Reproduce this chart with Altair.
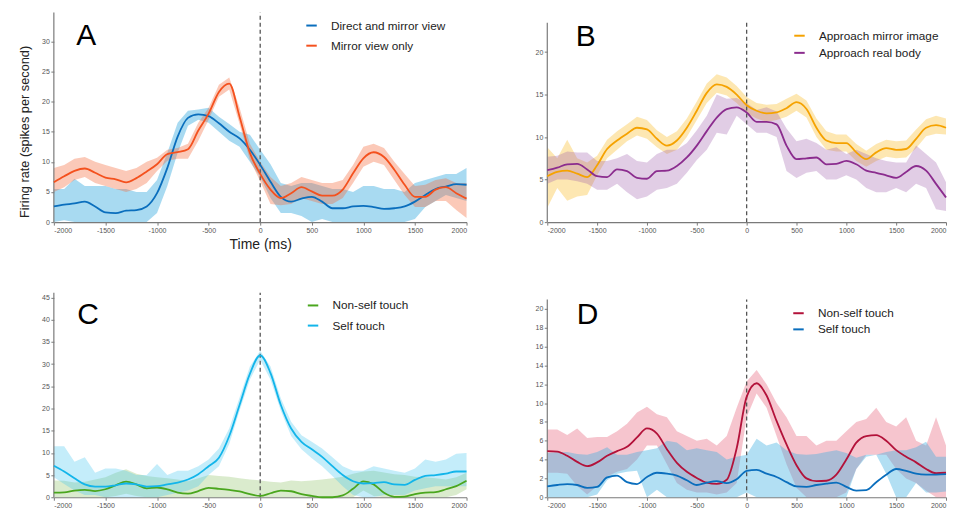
import altair as alt
import pandas as pd

t = list(range(-2000, 2001, 100))

# ---------------- Panel A ----------------
a_names = ["Direct and mirror view", "Mirror view only"]
a_direct_mean = [2.6, 2.9, 3.1, 3.4, 2.6, 1.6, 1.5, 1.9, 2.0, 2.6, 4.8, 9.0, 14.2, 17.3, 17.9, 17.6, 16.4, 15.0, 13.9, 12.0, 9.5,
                 6.7, 4.2, 3.4, 3.9, 4.2, 3.4, 2.3, 2.3, 2.6, 2.7, 2.5, 2.2, 2.3, 2.6, 3.4, 4.5, 5.5, 5.9, 6.3, 6.2]
a_direct_lo = [0, 0.3, 0, 0, 0, 0, 0, 0, 0, 0, 1.5, 6, 11.5, 16, 17, 16.5, 15, 13.5, 12.5, 10, 7.5,
               4, 1.5, 1.5, 1, 0, 0.5, 0, 0, 0, 0, 0, 0, 0, 0, 0.5, 2.5, 3.5, 4.5, 4, 3.5]
a_direct_hi = [5.5, 5.5, 7.2, 6, 6, 6, 5.5, 5.5, 5, 5, 7, 11.5, 16.5, 18.5, 18.7, 19, 17.5, 16.3, 15, 14.5, 12,
               9.6, 6.5, 6, 6.5, 6.5, 6, 5.5, 5.5, 5, 6, 6, 5.5, 5.5, 5, 6.5, 7, 7.5, 8, 8, 9]
a_mirror_mean = [6.6, 7.6, 8.5, 8.9, 8.2, 7.4, 7.1, 6.6, 7.3, 8.4, 9.6, 11.3, 11.6, 12.1, 15.2, 18.0, 21.6, 23.0, 17.5, 11.5, 8.0,
                 5.4, 4.0, 4.8, 5.8, 5.1, 4.4, 4.4, 5.4, 8.1, 10.6, 11.6, 10.8, 8.7, 6.2, 4.2, 4.2, 5.4, 5.8, 4.8, 3.9]
a_mirror_lo = [5, 5.8, 7, 7.5, 6.5, 6, 5.5, 5, 5.5, 6.5, 8.5, 10.2, 10.5, 10.5, 13.5, 17, 20.8, 22, 16.3, 10.3, 6.8,
               3, 2.8, 3, 4, 3.5, 3, 3, 4, 6.5, 9.2, 10, 9.5, 7, 4.5, 2.5, 2.5, 3.5, 3.5, 2, 0.7]
a_mirror_hi = [9, 9.5, 10.5, 10.8, 10, 9.5, 9, 8.5, 9, 10, 10.7, 12, 12.3, 13, 16.5, 19, 22.8, 24, 19, 13, 10,
               7.5, 6, 6.5, 7.5, 7, 6.5, 6.5, 7, 9.5, 12.5, 13, 12.3, 10, 8, 6, 6.2, 7, 7.3, 6.5, 6.5]

# ---------------- Panel B ----------------
b_names = ["Approach mirror image", "Approach real body"]
b_mirror_mean = [5.4, 5.9, 6.05, 5.7, 5.3, 6.7, 8.6, 9.6, 10.4, 11.1, 10.9, 9.8, 9.0, 9.6, 11.1, 13.1, 15.2, 16.2, 15.9, 15.0, 13.75,
                 13.1, 12.8, 12.9, 13.4, 14.1, 13.3, 11.1, 9.6, 9.3, 9.3, 8.2, 7.4, 8.2, 8.7, 8.5, 8.6, 9.8, 11.1, 11.4, 11.1]
b_mirror_lo = [1.7, 4, 2.5, 3, 3.2, 5.5, 7.5, 8.5, 9.5, 10.2, 9.8, 8.8, 8, 8.5, 10, 12, 14, 15.2, 14.9, 14, 12.8,
               12.2, 11.8, 12, 12.4, 13.1, 12.3, 10, 8.5, 8.3, 8.3, 7.2, 6.5, 7.2, 7.7, 7.5, 7.6, 8.7, 10.1, 10.4, 10.3]
b_mirror_hi = [8.8, 7.5, 9.7, 7.5, 7, 7.8, 9.7, 10.7, 11.5, 12.4, 12, 10.8, 10, 10.7, 12.2, 14.2, 16.3, 17.4, 17, 16, 14.7,
               14, 13.8, 13.9, 14.5, 15.1, 14.3, 12.2, 10.7, 10.3, 10.3, 9.2, 8.4, 9.2, 9.7, 9.5, 9.6, 10.9, 12.1, 12.5, 12.2]
b_real_mean = [6.1, 6.4, 6.8, 6.85, 6.2, 5.4, 5.3, 6.2, 6.0, 5.2, 5.1, 6.0, 6.05, 6.6, 7.6, 9.0, 10.7, 12.3, 13.3, 13.5, 12.9,
               11.8, 11.8, 11.5, 9.0, 7.4, 7.5, 7.6, 6.8, 6.85, 7.2, 6.8, 6.05, 5.8, 5.5, 5.2, 5.9, 6.6, 6.05, 4.5, 2.9]
b_real_lo = [4.5, 5, 5, 4.8, 4.5, 3.8, 3.8, 4.5, 3.5, 2.7, 3, 3.8, 4, 4.5, 5.8, 7.3, 8.5, 10.5, 10.3, 12.5, 11.5,
             10.5, 10.5, 10, 6, 5.2, 5.8, 6, 5, 5, 5.5, 5, 4, 3.5, 3.5, 4, 3.5, 4.5, 4, 1.5, 1.3]
b_real_hi = [7.7, 7.8, 8.3, 8.2, 8.2, 7.2, 7.2, 7.5, 8, 7.2, 7, 8, 8.5, 8.5, 9.3, 10.8, 12.5, 15, 14.5, 14.6, 14,
             13.2, 13.5, 13, 11, 9.5, 9.8, 9.3, 8.5, 8.8, 8, 8.5, 8, 7.5, 7.2, 7, 7, 9, 8, 7, 4.7]

# ---------------- Panel C ----------------
c_names = ["Non-self touch", "Self touch"]
c_non_mean = [1.05, 1.1, 1.5, 1.65, 1.4, 1.8, 2.7, 3.5, 2.9, 2.0, 2.2, 1.8, 1.05, 0.8, 1.4, 2.1, 1.9, 1.65, 1.3, 0.7, 0.3,
              0.9, 1.5, 1.35, 0.7, 0.3, 0.0, 0.0, 0.4, 1.9, 3.6, 2.9, 1.0, 0.1, 0.15, 0.7, 1.05, 1.15, 1.8, 2.5, 3.7]
c_non_lo = [0, 0, 0, 0, 0, 0, 0.3, 0.8, 0.3, 0, 0, 0, 0, 0, 0, 0, 0, 0, 0, 0, 0,
            0, 0, 0, 0, 0, 0, 0, 0, 0, 1.5, 0.3, 0, 0, 0, 0, 0, 0, 0, 0.5, 1.8]
c_non_hi = [3.8, 3.7, 3.3, 3.5, 4, 4.5, 5.5, 6.3, 5.3, 4.8, 4.5, 4.3, 4, 3.6, 4.3, 5, 4.8, 4.6, 4.3, 4.0, 3.8,
            3.5, 3.3, 3.8, 3.6, 3.8, 4, 4.3, 4.6, 5.3, 5.8, 6, 5.6, 5.2, 5, 4.6, 4.5, 4.3, 4, 4.5, 5.5]
c_self_mean = [7.1, 5.8, 4.3, 2.9, 2.4, 2.4, 2.7, 3.1, 2.9, 2.4, 2.5, 2.9, 3.3, 4.0, 5.2, 7.0, 8.9, 13.8, 20.8, 27.8, 32.0,
               28.0, 20.8, 15.5, 12.5, 10.8, 9.1, 7.0, 5.0, 3.6, 3.1, 3.2, 3.4, 2.9, 2.8, 3.9, 4.8, 5.0, 5.3, 5.8, 5.8]
c_self_lo = [4.5, 3, 1.5, 0.5, 0.5, 0, 0, 0, 0, 0, 0, 0.5, 1, 1.5, 2.5, 5, 7, 12, 19.5, 26.5, 31,
             26.5, 19.5, 13.8, 10.8, 8.8, 7, 4.8, 2.5, 0.5, 0, 0, 0.5, 0.5, 0.5, 1.5, 2, 2.5, 2.5, 2.5, 2.5]
c_self_hi = [11.5, 11.5, 8, 9, 5.5, 6.5, 6.5, 6, 5, 5, 7.5, 5, 6, 6, 7, 8.5, 11, 15.5, 22.5, 29.5, 33,
             29.5, 22.3, 17, 14, 12.5, 11, 9, 7, 6, 6, 7, 6.5, 6, 5.5, 6.5, 8.5, 8, 8.5, 9.8, 10]

# ---------------- Panel D ----------------
d_names = ["Non-self touch", "Self touch"]
d_non_mean = [4.9, 4.85, 4.4, 3.75, 3.3, 3.7, 4.4, 4.9, 5.35, 6.35, 7.3, 6.75, 5.1, 3.65, 2.7, 2.05, 1.55, 1.42, 1.85, 5.2, 10.65,
              12.1, 10.8, 8.1, 5.6, 3.4, 2.0, 1.7, 1.75, 2.4, 4.0, 5.8, 6.5, 6.6, 6.0, 5.0, 4.3, 3.7, 3.0, 2.55, 2.6]
d_non_lo = [2.6, 2.6, 2.5, 1.2, 0.3, 1.2, 2.2, 2.7, 3, 4, 5.5, 5.5, 3.5, 1.5, 0.8, 0.5, 0.5, 0.3, 0.5, 1.5, 8.5,
            11, 9.5, 6.5, 3.5, 1, 0, 0, 0, 0, 0.5, 3, 4.5, 4.5, 4.5, 3, 2, 1.5, 0.7, 0, 0]
d_non_hi = [7.2, 7.2, 6.6, 7.3, 6.3, 6.4, 6.4, 7, 7.8, 9, 9.6, 8.8, 8.5, 7, 6.5, 6, 6.2, 5.5, 6.5, 9.5, 12.3,
            13.5, 12, 10, 8.5, 6.5, 6.5, 5.5, 6, 6, 7, 8, 8.3, 9.5, 8, 7.5, 8.5, 6, 5.5, 8.5, 5.5]
d_self_mean = [1.15, 1.3, 1.4, 1.3, 1.0, 1.1, 2.1, 2.3, 1.6, 1.4, 2.15, 2.6, 2.5, 2.3, 1.8, 1.3, 1.55, 1.7, 1.5, 1.9, 2.8,
               2.9, 2.5, 2.15, 1.6, 1.15, 1.1, 1.3, 1.45, 1.55, 1.1, 0.7, 0.75, 1.6, 2.4, 3.0, 2.8, 2.5, 2.4, 2.4, 2.45]
d_self_lo = [0, 0, 0, 0, 0, 0.3, 1.8, 2.5, 2.7, 2.8, 0, 0.8, 0, 0, 0, 0, 0, 0, 0, 0, 0.5,
             0, 0, 0, 0, 0, 0, 0, 0, 0, 0, 3, 4.3, 4.5, 2.5, 0, 0, 1.5, 0.5, 0.5, 0.6]
d_self_hi = [4.7, 4.8, 4.8, 4.6, 4.5, 4.8, 5.3, 4.5, 4.5, 4.8, 5, 5.2, 6, 5.8, 5, 5.2, 5, 4.8, 4, 4.3, 4.5,
             6.2, 5.5, 5.8, 5, 4.6, 4.5, 4.6, 4.8, 5, 4.7, 4.2, 4.5, 4.5, 4.8, 5, 5, 5.3, 5.9, 4.3, 4.3]

letters = ["A", "B", "C", "D"]
x_ticks = list(range(-2000, 2001, 500))

FONT = "Liberation Sans"
AXIS_GRAY = "#7a7a7a"


def make_df(names, means, los, his):
    rows = []
    for n, m, lo, hi in zip(names, means, los, his):
        for ti, mi, l, h in zip(t, m, lo, hi):
            rows.append({"t": ti, "series": n, "mean": mi, "lo": l, "hi": h})
    return pd.DataFrame(rows)


def panel(letter, names, means, los, his, line_colors, band_colors, band_opac,
          ymax, ytop, yticks, width, height, leg_x, leg_y, leg_rowpad,
          let_x, let_y, show_titles):
    df = make_df(names, means, los, his)
    xs = alt.Scale(domain=[-2000, 2000], nice=False, zero=False)
    ys = alt.Scale(domain=[0, ymax], nice=False, zero=False)
    xaxis = alt.Axis(values=x_ticks, labelExpr="datum.value + ''", grid=False, labelOverlap=False,
                     title="Time (ms)" if show_titles else None)
    if show_titles:
        yaxis = alt.Axis(values=yticks, labelExpr="datum.value + ''", grid=False, domain=False,
                         labelOverlap=False, title="Firing rate (spikes per second)", titleY=123)
    else:
        yaxis = alt.Axis(values=yticks, labelExpr="datum.value + ''", grid=False, domain=False,
                         labelOverlap=False, title=None)
    layers = []
    for n, bc, op in zip(names, band_colors, band_opac):
        layers.append(
            alt.Chart(df).transform_filter(alt.datum.series == n)
            .mark_area(color=bc, opacity=op)
            .encode(x=alt.X("t:Q", scale=xs, axis=xaxis),
                    y=alt.Y("lo:Q", scale=ys, axis=yaxis),
                    y2="hi:Q")
        )
    one = pd.DataFrame({"letter": [letter]})
    layers.append(
        alt.Chart(one).mark_rule(color=AXIS_GRAY, strokeWidth=1.2)
        .encode(x=alt.value(0),
                y=alt.YDatum(0, type="quantitative", scale=ys, axis=yaxis),
                y2=alt.Y2Datum(ytop))
    )
    layers.append(
        alt.Chart(one).mark_rule(color="#555555", strokeWidth=1.3, strokeDash=[4, 3])
        .encode(x=alt.XDatum(0, type="quantitative", scale=xs, axis=xaxis),
                y=alt.YDatum(0, type="quantitative", scale=ys, axis=yaxis),
                y2=alt.Y2Datum(ytop))
    )
    layers.append(
        alt.Chart(df).mark_line(interpolate="monotone", strokeWidth=1.8)
        .encode(
            x=alt.X("t:Q", scale=xs, axis=xaxis),
            y=alt.Y("mean:Q", scale=ys, axis=yaxis),
            stroke=alt.Stroke("series:N", sort=names,
                              scale=alt.Scale(domain=names, range=line_colors),
                              legend=alt.Legend(orient="none", legendX=leg_x, legendY=leg_y,
                                                title=None, symbolType="stroke",
                                                symbolStrokeWidth=2, symbolSize=110,
                                                labelFontSize=11.8, labelFont=FONT,
                                                labelColor="#222222", rowPadding=leg_rowpad,
                                                labelOffset=13, padding=0)),
        )
    )
    layers.append(
        alt.Chart(one).mark_text(fontSize=30, font=FONT, align="left", baseline="alphabetic",
                                 color="black")
        .encode(x=alt.value(let_x), y=alt.value(let_y), text="letter:N")
    )
    return alt.layer(*layers).properties(width=width, height=height)


H1 = 214
H2 = 230
T2 = 268

pA = panel(letters[0], a_names, [a_direct_mean, a_mirror_mean], [a_direct_lo, a_mirror_lo],
           [a_direct_hi, a_mirror_hi], ["#0A6EBD", "#F4511E"], ["#3FAEE0", "#F36A3A"], [0.45, 0.36],
           H1 / 6.044, 34.8, list(range(0, 31, 5)), 414, H1,
           252, 10.3, 6.2, 22.5, 36, True)
pB = panel(letters[1], b_names, [b_mirror_mean, b_real_mean], [b_mirror_lo, b_real_lo],
           [b_mirror_hi, b_real_hi], ["#F5A200", "#8B2C8E"], ["#F9B000", "#9C5BA8"], [0.3, 0.3],
           H1 / 8.53, 23.45, list(range(0, 21, 5)), 400, H1,
           246.5, 20.5, 3.2, 28.5, 37, False)
pC = panel(letters[2], c_names, [c_non_mean, c_self_mean], [c_non_lo, c_self_lo],
           [c_non_hi, c_self_hi], ["#4AA61E", "#13B5EA"], ["#8CC063", "#3CC3EE"], [0.32, 0.3],
           H2 / 4.45, 46.1, list(range(0, 46, 5)), 414, H2,
           253.5, 305 - 5.9 - T2, 6.2, 23.5, 324 - T2, False)
pD = panel(letters[3], d_names, [d_non_mean, d_self_mean], [d_non_lo, d_self_lo],
           [d_non_hi, d_self_hi], ["#B3123A", "#0A6EBD"], ["#E45A74", "#3FAEE0"], [0.35, 0.4],
           H2 / 9.45, 21.0, list(range(0, 21, 2)), 400, H2,
           245.5, 313.3 - 6.4 - T2, 2.2, 29.5, 324 - T2, False)

chart = (
    alt.concat(pA, pB, pC, pD, columns=2, spacing={"row": 16, "column": 64})
    .resolve_scale(x="independent", y="independent", stroke="independent")
    .resolve_legend(stroke="independent")
    .properties(padding={"left": 10, "top": 0, "right": 0, "bottom": 0}, background="white")
    .configure_view(stroke=None)
    .configure_axis(labelFontSize=7, labelColor="#555555", labelFont=FONT,
                    tickColor=AXIS_GRAY, domainColor=AXIS_GRAY, domainWidth=1.2, tickWidth=1,
                    tickSize=3, labelPadding=1.5, labelOverlap=False,
                    titleFont=FONT, titleFontSize=12.8, titleFontWeight="normal", titleColor="#222222")
    .configure_axisX(titlePadding=4, titleFontSize=14)
    .configure_axisY(titlePadding=10)
)

chart.save("out.html", embed_options={"renderer": "svg", "actions": False})
